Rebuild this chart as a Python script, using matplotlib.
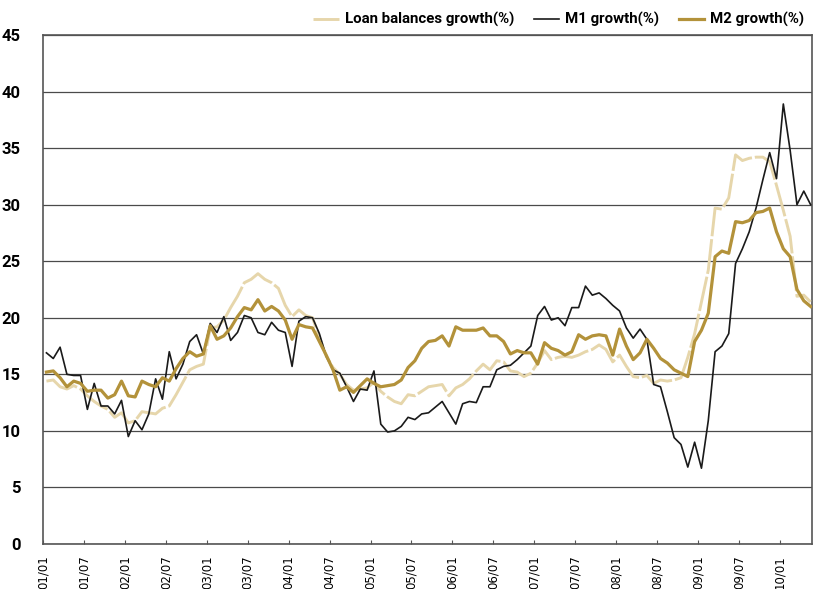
import matplotlib.pyplot as plt
import numpy as np

# monthly series, 2001/01 - 2010/05
m1 = [16.9, 16.4, 17.4, 15.0, 14.9, 14.9, 11.9, 14.2, 12.2, 12.2, 11.5, 12.7,
      9.5, 10.9, 10.1, 11.5, 14.6, 12.8, 17.0, 14.6, 15.9, 17.9, 18.5, 16.8,
      19.5, 18.7, 20.1, 18.0, 18.7, 20.2, 20.0, 18.7, 18.5, 19.6, 18.9, 18.7,
      15.7, 19.7, 20.1, 20.0, 18.6, 16.6, 15.4, 15.1, 13.9, 12.6, 13.7, 13.6,
      15.3, 10.6, 9.9, 10.0, 10.4, 11.2, 11.0, 11.5, 11.6, 12.1, 12.6, 11.6,
      10.6, 12.4, 12.6, 12.5, 13.9, 13.9, 15.4, 15.7, 15.8, 16.3, 16.9, 17.5,
      20.2, 21.0, 19.8, 20.0, 19.3, 20.9, 20.9, 22.8, 22.0, 22.2, 21.7, 21.1,
      20.6, 19.1, 18.2, 19.0, 18.1, 14.1, 13.9, 11.7, 9.4, 8.8, 6.8, 9.0,
      6.7, 10.9, 17.0, 17.5, 18.6, 24.8, 26.1, 27.6, 29.7, 32.2, 34.6, 32.3,
      38.9, 34.8, 30.0, 31.2, 30.0]
m2 = [15.2, 15.3, 14.7, 13.9, 14.4, 14.2, 13.5, 13.6, 13.6, 12.9, 13.2, 14.4,
      13.1, 13.0, 14.4, 14.1, 13.9, 14.7, 14.4, 15.5, 16.4, 17.0, 16.6, 16.8,
      19.3, 18.1, 18.4, 19.1, 20.1, 20.9, 20.7, 21.6, 20.6, 21.0, 20.6, 19.8,
      18.1, 19.4, 19.2, 19.1, 17.9, 16.7, 15.4, 13.6, 13.9, 13.4, 14.0, 14.6,
      14.2, 13.9, 14.0, 14.1, 14.5, 15.6, 16.2, 17.3, 17.9, 18.0, 18.4, 17.5,
      19.2, 18.9, 18.9, 18.9, 19.1, 18.4, 18.4, 17.9, 16.8, 17.1, 16.9, 16.9,
      15.9, 17.8, 17.3, 17.1, 16.7, 17.0, 18.5, 18.1, 18.4, 18.5, 18.4, 16.7,
      19.0, 17.5, 16.3, 16.9, 18.1, 17.3, 16.4, 16.0, 15.4, 15.1, 14.8, 17.9,
      18.9, 20.4, 25.4, 25.9, 25.7, 28.5, 28.4, 28.6, 29.3, 29.4, 29.7, 27.6,
      26.1, 25.4, 22.5, 21.5, 21.0]
loan = [14.4, 14.5, 13.9, 13.7, 14.0, 13.7, 13.1, 12.6, 12.2, 11.9, 11.2, 11.6,
        10.7, 10.9, 11.7, 11.6, 11.5, 12.0, 12.2, 13.2, 14.3, 15.4, 15.7, 15.9,
        19.1, 19.2, 19.8, 20.9, 21.9, 23.1, 23.4, 23.9, 23.4, 23.1, 22.6, 21.1,
        20.1, 20.7, 20.2, 20.0, 18.3, 16.6, 15.6, 15.0, 14.1, 13.6, 13.7, 13.8,
        14.3, 13.5, 13.0, 12.6, 12.4, 13.2, 13.1, 13.5, 13.9, 14.0, 14.1, 13.1,
        13.8, 14.1, 14.6, 15.3, 15.9, 15.4, 16.2, 16.1, 15.3, 15.2, 14.8, 15.1,
        16.0, 17.1, 16.3, 16.5, 16.6, 16.5, 16.7, 17.0, 17.2, 17.6, 17.2, 16.1,
        16.7, 15.7, 14.8, 14.7, 14.9, 14.2, 14.5, 14.4, 14.5, 14.7, 16.5, 18.6,
        21.4, 24.2, 29.7, 29.6, 30.6, 34.4, 33.9, 34.1, 34.2, 34.2, 33.8, 31.7,
        29.5, 27.2, 21.9, 22.0, 21.4]

tick_labels = ['01/01', '01/07', '02/01', '02/07', '03/01', '03/07', '04/01',
               '04/07', '05/01', '05/07', '06/01', '06/07', '07/01', '07/07',
               '08/01', '08/07', '09/01', '09/07', '10/01']

x = np.arange(len(m1))

fig = plt.figure(figsize=(8.15, 5.89), dpi=100)
ax = fig.add_axes([0.0528, 0.0764, 0.9435, 0.8642])

ax.plot(x, loan, color='#e6d6ab', linewidth=2.1, dashes=(12, 1.0),
        label='Loan balances growth(%)', zorder=3)
ax.plot(x, m1, color='#1a1a1a', linewidth=1.2, label='M1 growth(%)', zorder=4)
ax.plot(x, m2, color='#b3923a', linewidth=2.3, label='M2 growth(%)', zorder=5)

ax.set_xlim(-0.5, 112.2)
ax.set_ylim(0, 45)
ax.set_yticks(np.arange(0, 46, 5))
ax.set_xticks(np.arange(len(tick_labels)) * 6 - 0.5)
ax.set_xticklabels(tick_labels, rotation=90, fontsize=8.5)

ax.grid(axis='y', color='#4a4a4a', linewidth=0.9)
ax.set_axisbelow(True)
for s in ax.spines.values():
    s.set_color('#555555')
    s.set_linewidth(1.2)

ax.tick_params(axis='x', direction='in', length=3, color='#555555', pad=8)
ax.tick_params(axis='y', length=0, pad=16)
for lab in ax.get_yticklabels():
    lab.set_fontsize(12)
    lab.set_fontweight('bold')
    lab.set_family('Roboto')

leg = ax.legend(loc='lower right', bbox_to_anchor=(1.0, 1.0), ncol=3,
                frameon=False, handlelength=1.7, columnspacing=1.3,
                handletextpad=0.4, borderaxespad=0.1,
                prop={'weight': 'bold', 'size': 10.8, 'family': 'Roboto'})

fig.savefig('out.png', dpi=100)
